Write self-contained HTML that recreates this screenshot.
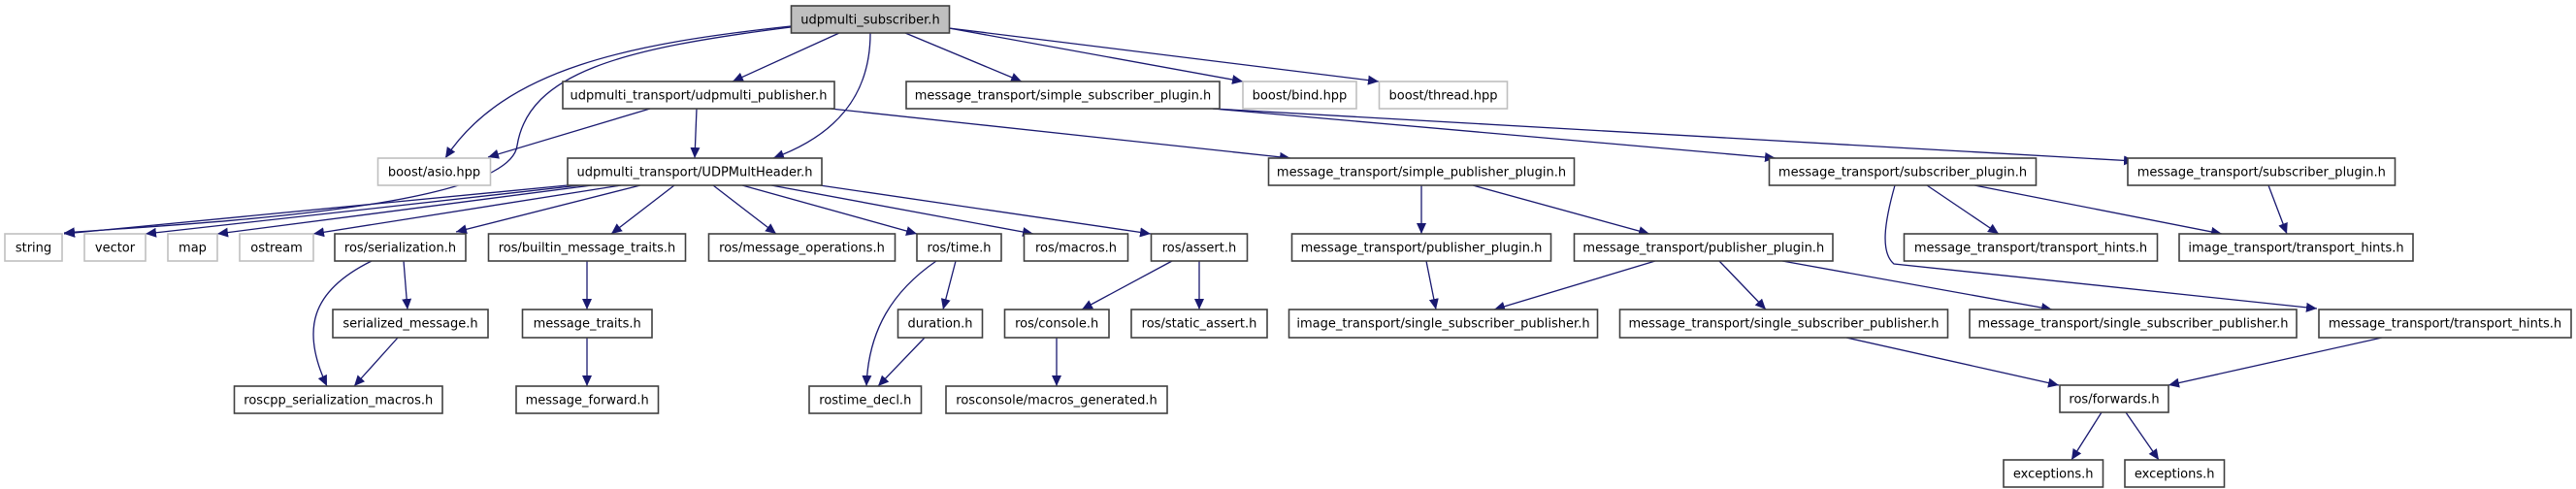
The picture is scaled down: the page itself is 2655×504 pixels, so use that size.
<!DOCTYPE html>
<html><head><meta charset="utf-8"><style>
html,body{margin:0;padding:0;background:#fff;}
svg{display:block;}
text{font-family:"DejaVu Sans","Liberation Sans",sans-serif;font-size:13px;fill:#000;text-anchor:middle;}
.n{fill:#fff;stroke:#404040;stroke-width:1.6;}
.g{fill:#fff;stroke:#bfbfbf;stroke-width:1.6;}
.r{fill:#bfbfbf;stroke:#404040;stroke-width:1.6;}
.e{fill:none;stroke:#191970;stroke-width:1.3;marker-end:url(#a);}
</style></head><body>
<svg width="2655" height="504" viewBox="0 0 2655 504" xmlns="http://www.w3.org/2000/svg">
<defs><marker id="a" markerUnits="userSpaceOnUse" markerWidth="12" markerHeight="10" refX="11" refY="5" orient="auto"><path d="M0,0 L11,5 L0,10 z" fill="#191970"/></marker></defs>
<g>
<!-- edges -->
<path class="e" d="M815,27 C650,45 520,70 459,163"/>
<path class="e" d="M815,28 C640,50 545,75 533,150 C525,215 200,230 66,240"/>
<path class="e" d="M865,34 L755,84"/>
<path class="e" d="M897,34 C897,100 860,140 797,163"/>
<path class="e" d="M933,34 L1053,84"/>
<path class="e" d="M978,29 L1281,84"/>
<path class="e" d="M978,29 L1421,84"/>
<path class="e" d="M670,112 L503,162"/>
<path class="e" d="M718,112 L716,163"/>
<path class="e" d="M856,112 L1330,163"/>
<path class="e" d="M1250,112 L1830,163"/>
<path class="e" d="M1250,112 L2200,166"/>
<path class="e" d="M585,191 L66,241"/>
<path class="e" d="M598,191 L150,241"/>
<path class="e" d="M610,191 L224,241"/>
<path class="e" d="M640,191 L323,241"/>
<path class="e" d="M660,191 L470,239"/>
<path class="e" d="M695,191 L630,241"/>
<path class="e" d="M735,191 L800,241"/>
<path class="e" d="M765,191 L945,241"/>
<path class="e" d="M795,191 L1065,241"/>
<path class="e" d="M845,191 L1186,241"/>
<path class="e" d="M1465,191 L1465,241"/>
<path class="e" d="M1518,191 L1700,241"/>
<path class="e" d="M1986,191 L2060,241"/>
<path class="e" d="M2035,191 L2290,241"/>
<path class="e" d="M1953,191 C1942,230 1938,260 1952,272 L2388,318"/>
<path class="e" d="M2338,191 L2357,241"/>
<path class="e" d="M1470,269 L1480,319"/>
<path class="e" d="M1706,269 L1540,319"/>
<path class="e" d="M1772,269 L1820,319"/>
<path class="e" d="M1837,269 L2115,319"/>
<path class="e" d="M1903,348 L2122,397"/>
<path class="e" d="M2455,348 L2235,397"/>
<path class="e" d="M2166,425 L2135,474"/>
<path class="e" d="M2191,425 L2225,474"/>
<path class="e" d="M416,269 L420,319"/>
<path class="e" d="M383,269 C320,300 310,340 337,398"/>
<path class="e" d="M410,348 L365,398"/>
<path class="e" d="M605,269 L605,319"/>
<path class="e" d="M605,348 L605,398"/>
<path class="e" d="M985,269 L972,319"/>
<path class="e" d="M965,269 C920,300 895,340 893,398"/>
<path class="e" d="M953,348 L905,398"/>
<path class="e" d="M1208,269 L1115,319"/>
<path class="e" d="M1236,269 L1236,319"/>
<path class="e" d="M1089,348 L1089,398"/>
</g>
<g>
<!-- row0 -->
<rect class="r" x="815.5" y="6" width="163" height="28"/><text x="897" y="24.5">udpmulti_subscriber.h</text>
<!-- row1 -->
<rect class="n" x="580" y="84" width="280" height="28"/><text x="720" y="102.5">udpmulti_transport/udpmulti_publisher.h</text>
<rect class="n" x="934" y="84" width="323" height="28"/><text x="1095.5" y="102.5">message_transport/simple_subscriber_plugin.h</text>
<rect class="g" x="1281" y="84" width="117" height="28"/><text x="1339.5" y="102.5">boost/bind.hpp</text>
<rect class="g" x="1421.5" y="84" width="132" height="28"/><text x="1487.5" y="102.5">boost/thread.hpp</text>
<!-- row2 -->
<rect class="g" x="389.5" y="163" width="116" height="28"/><text x="447.5" y="181.5">boost/asio.hpp</text>
<rect class="n" x="585" y="163" width="262" height="28"/><text x="716" y="181.5">udpmulti_transport/UDPMultHeader.h</text>
<rect class="n" x="1307.5" y="163" width="315" height="28"/><text x="1465" y="181.5">message_transport/simple_publisher_plugin.h</text>
<rect class="n" x="1823.5" y="163" width="275" height="28"/><text x="1961" y="181.5">message_transport/subscriber_plugin.h</text>
<rect class="n" x="2193" y="163" width="275.5" height="28"/><text x="2330.8" y="181.5">message_transport/subscriber_plugin.h</text>
<!-- row3 -->
<rect class="g" x="5" y="241" width="59" height="28"/><text x="34.5" y="259.5">string</text>
<rect class="g" x="87" y="241" width="63" height="28"/><text x="118.5" y="259.5">vector</text>
<rect class="g" x="173" y="241" width="51" height="28"/><text x="198.5" y="259.5">map</text>
<rect class="g" x="247" y="241" width="76" height="28"/><text x="285" y="259.5">ostream</text>
<rect class="n" x="345" y="241" width="135" height="28"/><text x="412.5" y="259.5">ros/serialization.h</text>
<rect class="n" x="503.5" y="241" width="203" height="28"/><text x="605" y="259.5">ros/builtin_message_traits.h</text>
<rect class="n" x="730.5" y="241" width="192" height="28"/><text x="826.5" y="259.5">ros/message_operations.h</text>
<rect class="n" x="945" y="241" width="87" height="28"/><text x="988.5" y="259.5">ros/time.h</text>
<rect class="n" x="1055.5" y="241" width="107" height="28"/><text x="1109" y="259.5">ros/macros.h</text>
<rect class="n" x="1186.5" y="241" width="99" height="28"/><text x="1236" y="259.5">ros/assert.h</text>
<rect class="n" x="1331.5" y="241" width="267" height="28"/><text x="1465" y="259.5">message_transport/publisher_plugin.h</text>
<rect class="n" x="1622.5" y="241" width="266.5" height="28"/><text x="1755.8" y="259.5">message_transport/publisher_plugin.h</text>
<rect class="n" x="1962.5" y="241" width="261" height="28"/><text x="2093" y="259.5">message_transport/transport_hints.h</text>
<rect class="n" x="2246" y="241" width="241" height="28"/><text x="2366.5" y="259.5">image_transport/transport_hints.h</text>
<!-- row4 -->
<rect class="n" x="343" y="319" width="160" height="29"/><text x="423" y="337.5">serialized_message.h</text>
<rect class="n" x="538.5" y="319" width="133.5" height="29"/><text x="605.2" y="337.5">message_traits.h</text>
<rect class="n" x="925.5" y="319" width="87" height="29"/><text x="969" y="337.5">duration.h</text>
<rect class="n" x="1035.5" y="319" width="107.5" height="29"/><text x="1089.2" y="337.5">ros/console.h</text>
<rect class="n" x="1166" y="319" width="140" height="29"/><text x="1236" y="337.5">ros/static_assert.h</text>
<rect class="n" x="1328.5" y="319" width="318" height="29"/><text x="1487.5" y="337.5">image_transport/single_subscriber_publisher.h</text>
<rect class="n" x="1669.5" y="319" width="338" height="29"/><text x="1838.5" y="337.5">message_transport/single_subscriber_publisher.h</text>
<rect class="n" x="2030" y="319" width="337" height="29"/><text x="2198.5" y="337.5">message_transport/single_subscriber_publisher.h</text>
<rect class="n" x="2390" y="319" width="260" height="29"/><text x="2520" y="337.5">message_transport/transport_hints.h</text>
<!-- row5 -->
<rect class="n" x="241.5" y="398" width="214.5" height="28"/><text x="348.8" y="416.5">roscpp_serialization_macros.h</text>
<rect class="n" x="532" y="398" width="146.5" height="28"/><text x="605.2" y="416.5">message_forward.h</text>
<rect class="n" x="834" y="398" width="115.5" height="28"/><text x="891.8" y="416.5">rostime_decl.h</text>
<rect class="n" x="975" y="398" width="228" height="28"/><text x="1089" y="416.5">rosconsole/macros_generated.h</text>
<rect class="n" x="2123" y="397" width="112" height="28"/><text x="2179" y="415.5">ros/forwards.h</text>
<!-- row6 -->
<rect class="n" x="2065" y="474" width="102.5" height="28"/><text x="2116.2" y="492.5">exceptions.h</text>
<rect class="n" x="2190" y="474" width="102.5" height="28"/><text x="2241.2" y="492.5">exceptions.h</text>
</g>
</svg>
</body></html>
